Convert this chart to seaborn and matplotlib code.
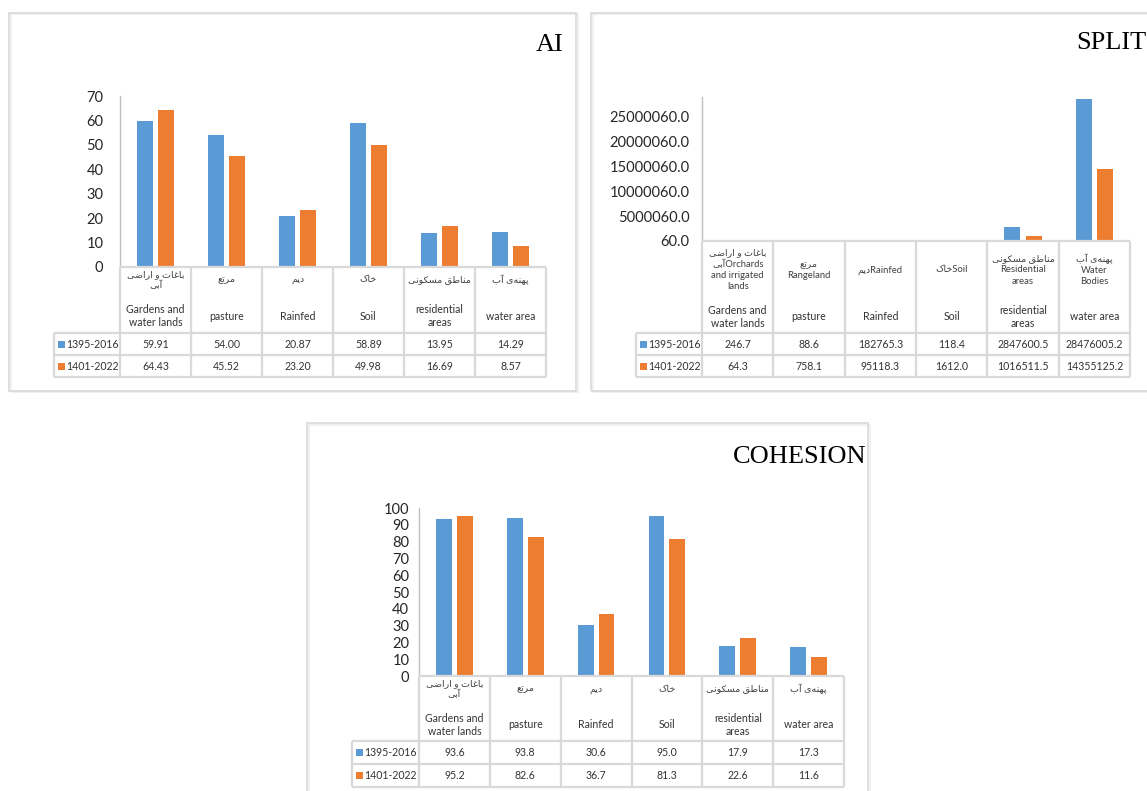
import re
import pandas as pd
import seaborn as sns
import matplotlib.pyplot as plt
from matplotlib.patches import Rectangle

# ---- data ----
categories_fa = ["باغات و اراضی\nآبی", "مرتع", "دیم", "خاک", "مناطق مسکونی", "پهنه\u200cی آب"]
categories_en = ["Gardens and\nwater lands", "pasture", "Rainfed", "Soil", "residential\nareas", "water area"]
split_header = ["باغات و اراضی\nآبیOrchards\nand irrigated\nlands", "مرتع\nRangeland", "دیمRainfed",
                "خاکSoil", "مناطق مسکونی\nResidential\nareas", "پهنه\u200cی آب\nWater\nBodies"]
periods = ["1395-2016", "1401-2022"]

ai_2016 = [59.91, 54.00, 20.87, 58.89, 13.95, 14.29]
ai_2022 = [64.43, 45.52, 23.20, 49.98, 16.69, 8.57]
split_2016 = [246.7, 88.6, 182765.3, 118.4, 2847600.5, 28476005.2]
split_2022 = [64.3, 758.1, 95118.3, 1612.0, 1016511.5, 14355125.2]
coh_2016 = [93.6, 93.8, 30.6, 95.0, 17.9, 17.3]
coh_2022 = [95.2, 82.6, 36.7, 81.3, 22.6, 11.6]

ai_ticks = [0, 10, 20, 30, 40, 50, 60, 70]
split_ticks = [60, 5000060, 10000060, 15000060, 20000060, 25000060]
coh_ticks = [0, 10, 20, 30, 40, 50, 60, 70, 80, 90, 100]

BLUE, ORANGE = "#5B9BD5", "#ED7D31"
GRID = "#D9D9D9"
TXT = "#404040"

sns.set_theme(style="white")
plt.rcParams["font.family"] = ["Lato", "DejaVu Sans"]

# ---- tiny arabic shaper (matplotlib has no RTL shaping) ----
# iso, fin, ini, med ; right-joining letters have no ini/med
FORMS = {
    "\u0627": ("\uFE8D", "\uFE8E", None, None),
    "\u0622": ("\uFE81", "\uFE82", None, None),
    "\u0628": ("\uFE8F", "\uFE90", "\uFE91", "\uFE92"),
    "\u067E": ("\uFB56", "\uFB57", "\uFB58", "\uFB59"),
    "\u062A": ("\uFE95", "\uFE96", "\uFE97", "\uFE98"),
    "\u062E": ("\uFEA5", "\uFEA6", "\uFEA7", "\uFEA8"),
    "\u062F": ("\uFEA9", "\uFEAA", None, None),
    "\u0631": ("\uFEAD", "\uFEAE", None, None),
    "\u0633": ("\uFEB1", "\uFEB2", "\uFEB3", "\uFEB4"),
    "\u0636": ("\uFEBD", "\uFEBE", "\uFEBF", "\uFEC0"),
    "\u0637": ("\uFEC1", "\uFEC2", "\uFEC3", "\uFEC4"),
    "\u0639": ("\uFEC9", "\uFECA", "\uFECB", "\uFECC"),
    "\u063A": ("\uFECD", "\uFECE", "\uFECF", "\uFED0"),
    "\u0642": ("\uFED5", "\uFED6", "\uFED7", "\uFED8"),
    "\u06A9": ("\uFB8E", "\uFB8F", "\uFB90", "\uFB91"),
    "\u0645": ("\uFEE1", "\uFEE2", "\uFEE3", "\uFEE4"),
    "\u0646": ("\uFEE5", "\uFEE6", "\uFEE7", "\uFEE8"),
    "\u0647": ("\uFEE9", "\uFEEA", "\uFEEB", "\uFEEC"),
    "\u0648": ("\uFEED", "\uFEEE", None, None),
    "\u06CC": ("\uFBFC", "\uFBFD", "\uFBFE", "\uFBFF"),
}


def shape_run(s):
    out = []
    for i, c in enumerate(s):
        if c not in FORMS:
            out.append(c)
            continue
        prev = s[i - 1] if i > 0 else None
        nxt = s[i + 1] if i + 1 < len(s) else None
        jp = prev in FORMS and FORMS[prev][2] is not None
        jn = FORMS[c][2] is not None and nxt in FORMS
        iso, fin, ini, med = FORMS[c]
        out.append(med if jp and jn else fin if jp else ini if jn else iso)
    return "".join(out).replace("\u200c", "")[::-1]


def rtl(text):
    lines = []
    for line in text.split("\n"):
        runs = re.findall(r"[\u0600-\u06FF\u200c][\u0600-\u06FF\u200c ]*|[^\u0600-\u06FF\u200c]+", line)
        lines.append("".join(shape_run(r) if re.match(r"[\u0600-\u06FF]", r) else r for r in runs))
    return "\n".join(lines)


W, H = 1147, 791
fig = plt.figure(figsize=(W / 100, H / 100), dpi=100)


def add_ax(x0, y0, x1, y1):
    return fig.add_axes([x0 / W, 1 - y1 / H, (x1 - x0) / W, (y1 - y0) / H])


def frame(x0, y0, x1, y1, color, lw):
    fig.add_artist(Rectangle((x0 / W, 1 - y1 / H), (x1 - x0) / W, (y1 - y0) / H,
                             transform=fig.transFigure, fill=False, edgecolor=color, lw=lw))


def panel(title, box, title_xy, cols, legend_left, plot_top, rows, upper_y, lower_y,
          v2016, v2022, ylim, yticks, fmt, upper_labels, tick_pad):
    bx0, by0, bx1, by1 = box
    frame(bx0 + 1.5, by0 + 1.5, bx1 + 1.5, by1 + 1.5, "#EEEEEE", 1.2)  # soft shadow
    frame(bx0, by0, bx1, by1, GRID, 1.2)
    fig.text(title_xy[0] / W, 1 - title_xy[1] / H, title, ha="right", va="center",
             fontsize=19, family="Liberation Serif", color="black")

    col_left, col_right = cols
    header_top, header_bottom, row1, bottom = rows

    # bars
    df = pd.DataFrame({
        "cat": categories_en * 2,
        "period": [periods[0]] * 6 + [periods[1]] * 6,
        "value": list(v2016) + list(v2022),
    })
    ax = add_ax(col_left, plot_top, col_right, header_top)
    sns.barplot(data=df, x="cat", y="value", hue="period", order=categories_en,
                palette=[BLUE, ORANGE], saturation=1, width=0.59, gap=0.24,
                errorbar=None, legend=False, linewidth=0, ax=ax)
    ax.set_xlim(-0.5, 5.5)
    ax.set_ylim(*ylim)
    ax.set_yticks(yticks)
    ax.set_yticklabels([fmt.format(t) for t in yticks])
    ax.set_xticks([])
    ax.set_xlabel("")
    ax.set_ylabel("")
    ax.tick_params(axis="y", length=0, pad=tick_pad, labelsize=10.5, labelcolor="#262626")
    for s in ["top", "right", "bottom"]:
        ax.spines[s].set_visible(False)
    ax.spines["left"].set_color("#BFBFBF")
    ax.spines["left"].set_linewidth(1)

    # data table
    cw = (col_right - col_left) / 6
    xl = -0.5 - (col_left - legend_left) / cw
    tab = add_ax(legend_left, header_top, col_right, bottom)
    tab.set_xlim(xl, 5.5)
    tab.set_ylim(bottom, header_top)
    tab.axis("off")
    kw = dict(color=GRID, lw=1.6, clip_on=False, solid_capstyle="butt")
    for k in range(7):
        tab.plot([k - 0.5] * 2, [header_top, bottom], **kw)
    tab.plot([xl] * 2, [header_bottom, bottom], **kw)
    tab.plot([-0.5, 5.5], [header_top] * 2, **kw)
    for y in [header_bottom, row1, bottom]:
        tab.plot([xl, 5.5], [y, y], **kw)

    for i in range(6):
        tab.text(i, upper_y, rtl(upper_labels[i]), ha="center", va="center",
                 fontsize=6.8, color=TXT, linespacing=1.3)
        tab.text(i, lower_y, categories_en[i], ha="center", va="center",
                 fontsize=7.6, color="#333333", linespacing=1.3)

    row_mid = [(header_bottom + row1) / 2, (row1 + bottom) / 2]
    for j, (vals, color) in enumerate(zip([v2016, v2022], [BLUE, ORANGE])):
        yc = row_mid[j]
        tab.add_patch(Rectangle((xl + 4 / cw, yc - 3.5), 7 / cw, 7, color=color, lw=0))
        tab.text(xl + 12.5 / cw, yc, periods[j], ha="left", va="center", fontsize=7.6, color="#333333")
        for i, v in enumerate(vals):
            tab.text(i, yc, fmt.format(v), ha="center", va="center", fontsize=7.6, color="#333333")


panel("AI", (9, 13, 576, 391), (563, 45), (120, 546), 54, 96, (267, 333, 355, 377), 280, 316,
      ai_2016, ai_2022, (0, 70), ai_ticks, "{:.2f}", categories_fa, 12)
panel("SPLIT", (591, 13, 1180, 391), (1147, 43), (702, 1130), 636, 97, (241, 333, 355, 377), 270, 317,
      split_2016, split_2022, (60, 28.9e6), split_ticks, "{:.1f}", split_header, 9)
panel("COHESION", (307, 423, 868, 810), (866, 457), (419, 844), 352, 508, (676, 741, 764, 787), 689, 725,
      coh_2016, coh_2022, (0, 100), coh_ticks, "{:.1f}", categories_fa, 7)

# AI and COHESION axis labels are integers
fig.axes[0].set_yticklabels([str(t) for t in ai_ticks])
fig.axes[4].set_yticklabels([str(t) for t in coh_ticks])

fig.savefig("out.png", dpi=100)
